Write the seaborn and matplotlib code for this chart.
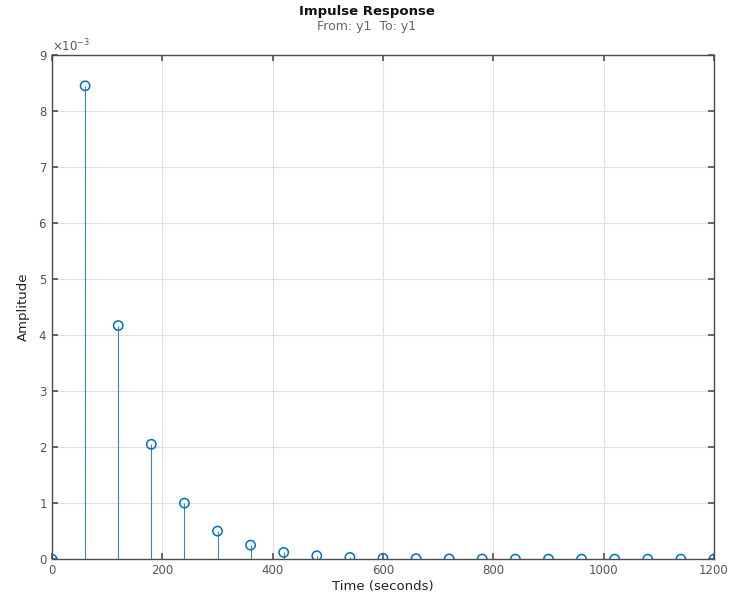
import numpy as np
import pandas as pd
import matplotlib
matplotlib.use("Agg")
import matplotlib.pyplot as plt
import matplotlib.ticker as mticker
import seaborn as sns

time_s = [0, 60, 120, 180, 240, 300, 360, 420, 480, 540, 600, 660, 720, 780, 840, 900, 960, 1020, 1080, 1140, 1200]
amplitude = [0.0, 8.45e-3, 4.17e-3, 2.05e-3, 1.0e-3, 0.5e-3, 0.25e-3, 0.12e-3, 0.06e-3, 0.03e-3,
             0.015e-3, 0.008e-3, 0.004e-3, 0.002e-3, 0.001e-3, 0.0005e-3, 0.0002e-3, 0.0001e-3,
             0.00005e-3, 0.00003e-3, 0.00001e-3]
x_ticks = [0, 200, 400, 600, 800, 1000, 1200]
y_ticks = [0, 1e-3, 2e-3, 3e-3, 4e-3, 5e-3, 6e-3, 7e-3, 8e-3, 9e-3]

df = pd.DataFrame({"t": time_s, "a": amplitude})

sns.set_theme(style="white")
plt.rcParams['font.family'] = ['DejaVu Sans']

fig = plt.figure(figsize=(7.33, 5.98), dpi=100)
ax = fig.add_axes([0.071, 0.065, 0.903, 0.843])

blue = "#0072BD"
ax.vlines(df["t"], 0, df["a"], color="#3d86b0", lw=0.8, zorder=2)
ax.axhline(0, color=blue, lw=0.7, alpha=0.4, zorder=2)
sns.scatterplot(data=df, x="t", y="a", ax=ax, marker="o", s=45,
                facecolor="none", edgecolor=blue, linewidth=1.1, zorder=3, legend=False)

ax.set_xlim(0, 1200)
ax.set_ylim(0, 9e-3)
ax.set_xticks(x_ticks)
ax.set_yticks(y_ticks)
fmt = mticker.ScalarFormatter(useMathText=True)
fmt.set_powerlimits((-2, 2))
ax.yaxis.set_major_formatter(fmt)
ax.yaxis.get_offset_text().set_fontsize(8.5)
ax.yaxis.get_offset_text().set_color("#555555")

ax.grid(True, color="#e0e0e0", lw=0.8)
ax.set_axisbelow(True)
for sp in ax.spines.values():
    sp.set_color("#4d4d4d")
    sp.set_linewidth(1.0)
ax.tick_params(axis="both", labelsize=8.5, colors="#555555", direction="in", length=4,
               top=True, right=True, left=True, bottom=True)
ax.set_xlabel("Time (seconds)", fontsize=9.5, color="#222222", labelpad=2)
ax.set_ylabel("Amplitude", fontsize=9.5, color="#222222", labelpad=6)
fig.text(0.5, 0.955, "From: y1  To: y1", ha="center", va="center", fontsize=9,
         color="#666666")
fig.text(0.5, 0.98, "Impulse Response", ha="center", va="center", fontsize=9.5,
         fontweight="bold", color="#111111")

fig.savefig("out.png", dpi=100, facecolor="white")
